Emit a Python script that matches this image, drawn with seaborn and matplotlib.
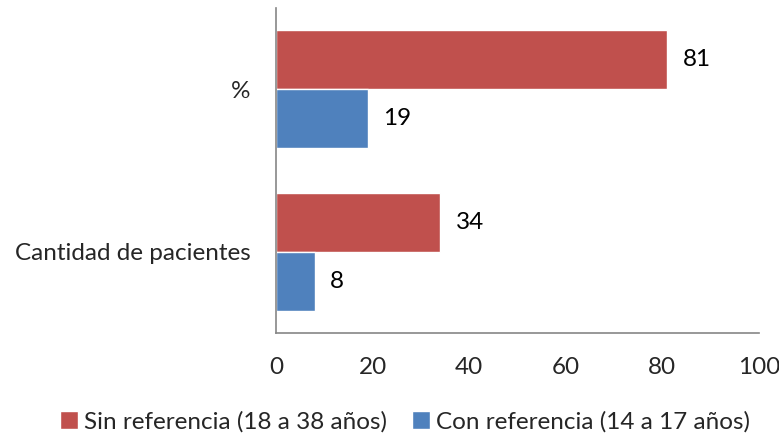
import matplotlib
matplotlib.use("Agg")
import matplotlib.pyplot as plt
import seaborn as sns
import pandas as pd

categories = ["%", "Cantidad de pacientes"]
series_names = ["Sin referencia (18 a 38 años)", "Con referencia (14 a 17 años)"]
sin_referencia = [81, 34]
con_referencia = [19, 8]
x_ticks = [0, 20, 40, 60, 80, 100]

colors = ["#C0504D", "#4F81BD"]
spine_color = "#868686"
font_size = 17.5

df = pd.DataFrame({
    "categoria": categories * 2,
    "serie": [series_names[0]] * len(categories) + [series_names[1]] * len(categories),
    "valor": sin_referencia + con_referencia,
})

sns.set_theme(style="white")
plt.rcParams["font.family"] = ["Lato", "DejaVu Sans"]

fig = plt.figure(figsize=(7.79, 4.37), dpi=100)
ax = fig.add_axes([0.3543, 0.238, 0.62, 0.7437])

sns.barplot(data=df, y="categoria", x="valor", hue="serie", order=categories,
            hue_order=series_names, palette=colors, orient="h", width=0.726,
            saturation=1, ax=ax, legend=True)

for cont in ax.containers:
    ax.bar_label(cont, labels=[f"{v:g}" for v in cont.datavalues],
                 padding=11, fontsize=font_size, color="black")

ax.set_xlim(0, 100)
ax.set_xticks(x_ticks)
ax.set_xticklabels([str(t) for t in x_ticks], fontsize=font_size)
ax.tick_params(axis="x", length=0, pad=17)
ax.tick_params(axis="y", length=0, pad=18.5, labelsize=font_size)
ax.set_xlabel("")
ax.set_ylabel("")

for side in ["top", "right"]:
    ax.spines[side].set_visible(False)
for side in ["left", "bottom"]:
    ax.spines[side].set_color(spine_color)
    ax.spines[side].set_linewidth(1.2)

handles, labels = ax.get_legend_handles_labels()
ax.get_legend().remove()
fig.legend(handles, labels, loc="center", bbox_to_anchor=(0.52, 0.035), ncol=2,
           frameon=False, fontsize=font_size, handlelength=0.75, handleheight=0.75,
           handletextpad=0.25, columnspacing=1.0)

fig.savefig("out.png", dpi=100)
